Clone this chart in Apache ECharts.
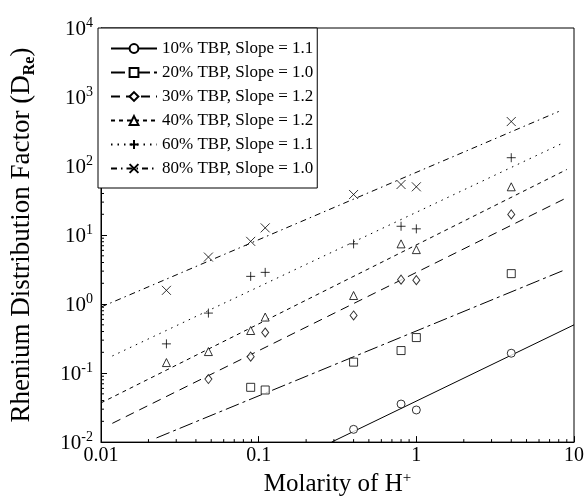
<!DOCTYPE html>
<html><head><meta charset="utf-8">
<script src="https://cdn.jsdelivr.net/npm/echarts@6/dist/echarts.min.js"></script>
<style>html,body{margin:0;padding:0;background:#fff}#c{width:587px;height:502px}</style>
</head><body><div id="c"></div>
<script>
const FONT = 'Liberation Serif';
const names = ['10% TBP, Slope = 1.1','20% TBP, Slope = 1.0','30% TBP, Slope = 1.2','40% TBP, Slope = 1.2','60% TBP, Slope = 1.1','80% TBP, Slope = 1.0'];

// measured points (Molarity of H+, D_Re)
const x10 = [0.4, 0.8, 1.0, 4.0];
const y10 = [0.0153, 0.0356, 0.0292, 0.194];
const x20 = [0.089, 0.11, 0.4, 0.8, 1.0, 4.0];
const y20 = [0.0622, 0.0569, 0.144, 0.212, 0.327, 2.76];
const x30 = [0.048, 0.089, 0.11, 0.4, 0.8, 1.0, 4.0];
const y30 = [0.082, 0.173, 0.387, 0.684, 2.26, 2.22, 19.9];
const x40 = [0.026, 0.048, 0.089, 0.11, 0.4, 0.8, 1.0, 4.0];
const y40 = [0.142, 0.205, 0.414, 0.648, 1.33, 7.45, 6.15, 50];
const x60 = [0.026, 0.048, 0.089, 0.11, 0.4, 0.8, 1.0, 4.0];
const y60 = [0.265, 0.74, 2.52, 2.88, 7.45, 13.4, 12.3, 132];
const x80 = [0.026, 0.048, 0.089, 0.11, 0.4, 0.8, 1.0, 4.0];
const y80 = [1.58, 4.8, 8.1, 12.7, 38.7, 54, 50, 441];

// fitted lines: [start, end]
const fit10 = [[0.29, 0.01], [10, 0.5]];
const fit20 = [[0.0225, 0.0115], [8.8, 3.15]];
const fit30 = [[0.0118, 0.0187], [8.6, 33]];
const fit40 = [[0.01, 0.037], [9.0, 89]];
const fit60 = [[0.0118, 0.177], [8.6, 218]];
const fit80 = [[0.01, 0.905], [8.0, 617]];

// axis ticks
const xTicks = [0.01, 0.1, 1, 10];
const yExponents = [-2, -1, 0, 1, 2, 3, 4];
const minorMantissas = [2, 3, 4, 5, 6, 7, 8, 9];
const xDecades = [0.01, 0.1, 1];
const yDecades = [0.01, 0.1, 1, 10, 100, 1000];

const pts = (xs, ys) => xs.map((x, i) => [x, ys[i]]);
const markerStyle = {color: '#fff', borderColor: '#000', borderWidth: 1};
const strokeStyle = {color: 'rgba(0,0,0,0)', borderColor: '#000', borderWidth: 1};
const groups = [
  {name: names[0], pts: pts(x10, y10), fit: fit10, symbol: 'circle', size: 8, dash: 'solid', st: markerStyle},
  {name: names[1], pts: pts(x20, y20), fit: fit20, symbol: 'rect', size: 8, dash: [14, 4, 3, 4], st: markerStyle},
  {name: names[2], pts: pts(x30, y30), fit: fit30, symbol: 'diamond', size: [7, 9], dash: [9, 6], st: markerStyle},
  {name: names[3], pts: pts(x40, y40), fit: fit40, symbol: 'triangle', size: 8, dash: [4, 4], st: markerStyle},
  {name: names[4], pts: pts(x60, y60), fit: fit60, symbol: 'path://M5,0V10M0,5H10', size: 9, dash: [1.5, 5], st: strokeStyle},
  {name: names[5], pts: pts(x80, y80), fit: fit80, symbol: 'path://M0,0L10,10M10,0L0,10', size: 9, dash: [6, 4, 1.5, 4], st: strokeStyle}
];

const series = [];
groups.forEach(g => {
  series.push({
    type: 'line', name: g.name, data: g.fit, showSymbol: false, symbol: g.symbol,
    lineStyle: {color: '#000', width: 1, type: g.dash}, itemStyle: g.st, silent: true, z: 2
  });
});
groups.forEach(g => {
  series.push({
    type: 'scatter', name: g.name, data: g.pts, symbol: g.symbol, symbolSize: g.size,
    itemStyle: g.st, silent: true, z: 3
  });
});

const xMinor = [];
xDecades.forEach(d => minorMantissas.forEach(m => xMinor.push([d * m, 0.01])));
const yMinor = [];
yDecades.forEach(d => minorMantissas.forEach(m => yMinor.push([0.01, d * m])));
series.push({
  type: 'custom', data: xMinor, silent: true, clip: false, z: 4,
  renderItem: (p, api) => { const c = api.coord([api.value(0), api.value(1)]);
    return {type: 'line', shape: {x1: c[0], y1: c[1], x2: c[0], y2: c[1] - 3}, style: {stroke: '#000', lineWidth: 1}}; }
});
series.push({
  type: 'custom', data: yMinor, silent: true, clip: false, z: 4,
  renderItem: (p, api) => { const c = api.coord([api.value(0), api.value(1)]);
    return {type: 'line', shape: {x1: c[0], y1: c[1], x2: c[0] + 3, y2: c[1]}, style: {stroke: '#000', lineWidth: 1}}; }
});

const chart = echarts.init(document.getElementById('c'), null, {renderer: 'canvas'});
chart.setOption({
  animation: false,
  backgroundColor: '#fff',
  grid: {left: 98, right: 13, top: 28, bottom: 38, show: true, borderColor: '#000', borderWidth: 1, backgroundColor: 'transparent'},
  legend: {
    orient: 'vertical', left: 98, top: 28, padding: [12, 4, 11, 12], itemGap: 7, itemWidth: 46, itemHeight: 11,
    backgroundColor: '#fff', borderColor: '#000', borderWidth: 1, borderRadius: 0, selectedMode: false,
    textStyle: {fontFamily: FONT, fontSize: 17, color: '#000'}, data: names, z: 10
  },
  xAxis: {
    type: 'log', logBase: 10, min: xTicks[0], max: xTicks[xTicks.length - 1], interval: 1,
    name: '{t|Molarity of H}{s|+}', nameLocation: 'middle', nameGap: 14,
    nameTextStyle: {rich: {t: {fontFamily: FONT, fontSize: 25, color: '#000', lineHeight: 26, verticalAlign: 'bottom'}, s: {fontFamily: FONT, fontSize: 15, color: '#000', lineHeight: 15, verticalAlign: 'top'}}},
    axisLine: {lineStyle: {color: '#000', width: 1}},
    axisTick: {inside: true, length: 6, lineStyle: {color: '#000'}},
    axisLabel: {fontFamily: FONT, fontSize: 20, color: '#000', margin: 4, formatter: v => String(v)},
    splitLine: {show: false}
  },
  yAxis: {
    type: 'log', logBase: 10, min: Math.pow(10, yExponents[0]), max: Math.pow(10, yExponents[yExponents.length - 1]), interval: 1,
    name: '{t|Rhenium Distribution Factor (D}{s|Re}{t|)}', nameLocation: 'middle', nameGap: 63,
    nameTextStyle: {rich: {t: {fontFamily: FONT, fontSize: 27, color: '#000', lineHeight: 30, verticalAlign: 'top'}, s: {fontFamily: FONT, fontSize: 16, fontWeight: 'bold', color: '#000', lineHeight: 16, verticalAlign: 'bottom'}}},
    axisLine: {lineStyle: {color: '#000', width: 1}},
    axisTick: {inside: true, length: 6, lineStyle: {color: '#000'}},
    axisLabel: {margin: 8, formatter: v => '{b|10}{s|' + Math.round(Math.log10(v)) + '}',
      rich: {b: {fontFamily: FONT, fontSize: 21, color: '#000', lineHeight: 24, verticalAlign: 'bottom'}, s: {fontFamily: FONT, fontSize: 14, color: '#000', lineHeight: 14, verticalAlign: 'top'}}},
    splitLine: {show: false}
  },
  series: series
});
</script></body></html>
